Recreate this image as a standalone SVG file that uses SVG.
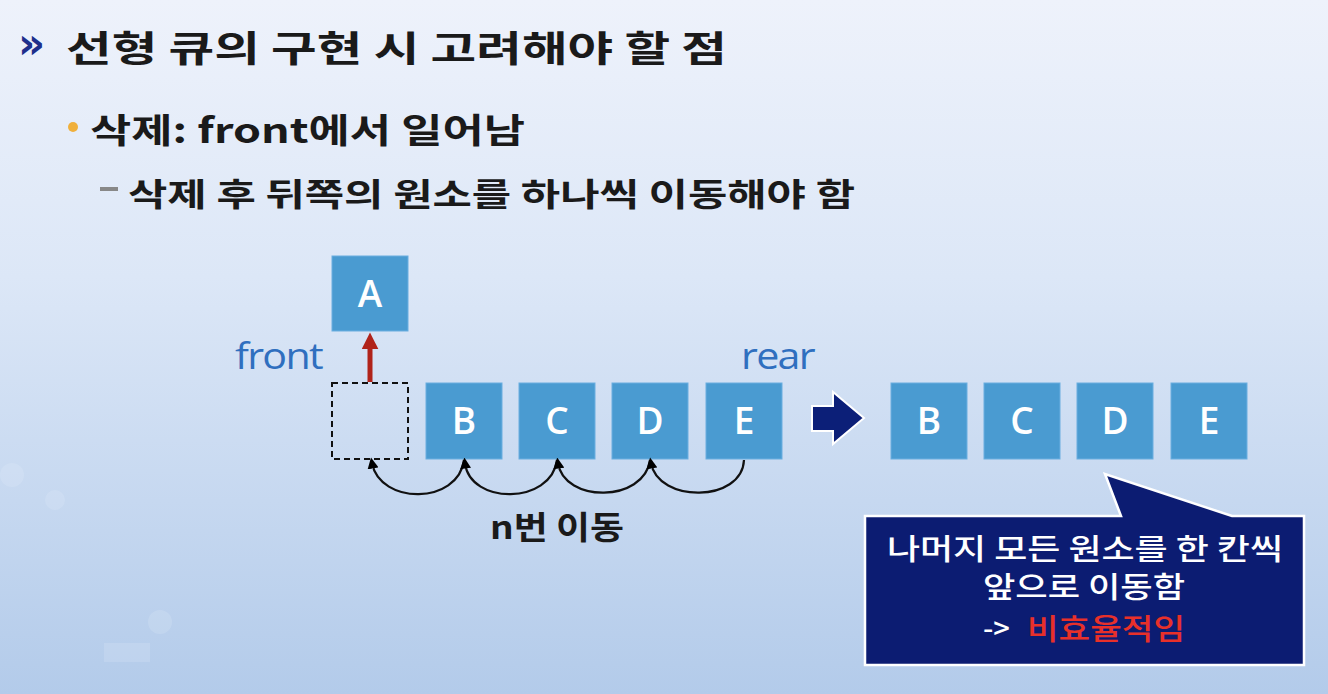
<svg xmlns="http://www.w3.org/2000/svg" width="1328" height="694" viewBox="0 0 1328 694">
<defs>
<linearGradient id="bg" x1="0" y1="0" x2="0" y2="1">
<stop offset="0" stop-color="#eef2fb"/>
<stop offset="0.4" stop-color="#dce7f7"/>
<stop offset="1" stop-color="#b3cbea"/>
</linearGradient>
<marker id="ah" viewBox="0 0 10 10" refX="5" refY="5" markerWidth="5" markerHeight="5" orient="auto-start-reverse">
<path d="M0,0 L10,5 L0,10 z" fill="#000"/>
</marker>
<marker id="red" viewBox="0 0 10 10" refX="2" refY="5" markerWidth="3.4" markerHeight="3.4" orient="auto">
<path d="M0,0 L10,5 L0,10 z" fill="#b0231a"/>
</marker>
<style>
.box{fill:#4a9bd1;stroke:#6aaee0;stroke-width:1}
.lbl{font-family:"Open Sans","Liberation Sans",sans-serif;font-size:37px;font-weight:600;fill:#fff;text-anchor:middle}
.kr{font-family:"Noto Sans CJK KR","Noto Sans",sans-serif;font-weight:700;fill:#1a1a1a}
.blue{font-family:"Open Sans","Liberation Sans",sans-serif;font-size:37px;fill:#2f6fbf;letter-spacing:-1.5px}
.arc{fill:none;stroke:#111;stroke-width:2.2}
.call{font-family:"Noto Sans CJK KR","Noto Sans",sans-serif;font-weight:500;font-size:29px;fill:#fff}
</style>
</defs>
<rect width="1328" height="694" fill="url(#bg)"/>
<g opacity="0.18" fill="#eaf2fc">
<circle cx="12" cy="475" r="12"/>
<circle cx="55" cy="500" r="10"/>
<circle cx="160" cy="622" r="12"/>
<rect x="104" y="643" width="46" height="19"/>
</g>

<g id="title">
<text x="18" y="58" font-family="'DejaVu Sans',sans-serif" font-weight="700" font-size="42" fill="#1e2f8c">»</text>
<text class="kr" x="66" y="62" font-size="36" textLength="661" lengthAdjust="spacingAndGlyphs">선형 큐의 구현 시 고려해야 할 점</text>
</g>
<g id="bullet1">
<circle cx="73" cy="127" r="5" fill="#f0b03c"/>
<text class="kr" x="90" y="143" font-size="34" textLength="435" lengthAdjust="spacingAndGlyphs">삭제: front에서 일어남</text>
</g>
<g id="bullet2">
<rect x="100" y="187" width="18" height="4" fill="#888"/>
<text class="kr" x="128" y="206" font-size="32" textLength="727" lengthAdjust="spacingAndGlyphs">삭제 후 뒤쪽의 원소를 하나씩 이동해야 함</text>
</g>

<g id="nodeA"><rect class="box" x="332" y="256" width="76" height="75"/><text class="lbl" x="370" y="307">A</text></g>
<g id="empty"><rect x="332" y="383" width="76" height="76" fill="none" stroke="#111" stroke-width="2" stroke-dasharray="6,4"/></g>
<g id="nodeB"><rect class="box" x="426" y="383" width="76" height="76"/><text class="lbl" x="464" y="434">B</text></g>
<g id="nodeC"><rect class="box" x="519" y="383" width="76" height="76"/><text class="lbl" x="557" y="434">C</text></g>
<g id="nodeD"><rect class="box" x="612" y="383" width="76" height="76"/><text class="lbl" x="650" y="434">D</text></g>
<g id="nodeE"><rect class="box" x="706" y="383" width="76" height="76"/><text class="lbl" x="744" y="434">E</text></g>
<g id="front"><text class="blue" x="235" y="369" textLength="87" lengthAdjust="spacingAndGlyphs">front</text></g>
<g id="rear"><text class="blue" x="741" y="369" textLength="73" lengthAdjust="spacingAndGlyphs">rear</text></g>
<g id="moves"><text class="kr" x="490" y="539" font-size="32" textLength="134" lengthAdjust="spacingAndGlyphs">n번 이동</text></g>

<g id="bigArrow"><path d="M812,406 L833,406 L833,392 L864,418 L833,444 L833,431 L812,431 Z" fill="#0c1f78" stroke="#fff" stroke-width="2"/></g>

<g id="nodeB2"><rect class="box" x="891" y="383" width="76" height="76"/><text class="lbl" x="929" y="434">B</text></g>
<g id="nodeC2"><rect class="box" x="984" y="383" width="76" height="76"/><text class="lbl" x="1022" y="434">C</text></g>
<g id="nodeD2"><rect class="box" x="1077" y="383" width="76" height="76"/><text class="lbl" x="1115" y="434">D</text></g>
<g id="nodeE2"><rect class="box" x="1171" y="383" width="76" height="76"/><text class="lbl" x="1209" y="434">E</text></g>

<g id="callout">
<path d="M865,516 L1121,516 L1105,474 L1232,516 L1304,516 L1304,665 L865,665 Z" fill="#0c1c72" stroke="#fff" stroke-width="2.5"/>
<text class="call" x="887" y="560" textLength="396" lengthAdjust="spacingAndGlyphs">나머지 모든 원소를 한 칸씩</text>
<text class="call" x="983" y="598" textLength="202" lengthAdjust="spacingAndGlyphs">앞으로 이동함</text>
<text class="call" x="983" y="639">-&gt;</text>
<text class="call" x="1027" y="640" font-size="31" fill="#e8302a" style="fill:#e8302a" textLength="158" lengthAdjust="spacingAndGlyphs">비효율적임</text>
</g>

<g id="connectors">
<line x1="370" y1="382" x2="370" y2="346" stroke="#b0231a" stroke-width="5" marker-end="url(#red)"/>
<path class="arc" d="M464,460 C458,505 380,505 372,463" marker-end="url(#ah)"/>
<path class="arc" d="M557,460 C551,505 470,505 465,463" marker-end="url(#ah)"/>
<path class="arc" d="M650,460 C644,503 564,503 558,463" marker-end="url(#ah)"/>
<path class="arc" d="M744,460 C742,503 658,503 651,463" marker-end="url(#ah)"/>
</g>
</svg>
